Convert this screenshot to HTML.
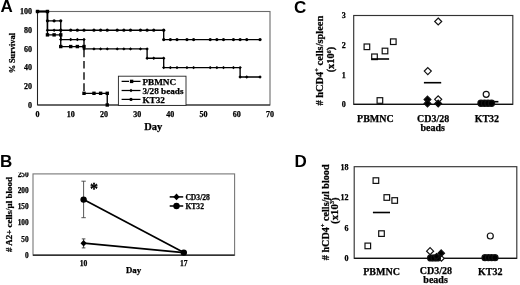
<!DOCTYPE html>
<html lang="en">
<head>
<meta charset="utf-8">
<title>Figure</title>
<style>
html,body{margin:0;padding:0;background:#fff;}
body{width:520px;height:285px;overflow:hidden;}
svg{display:block;}
svg text{font-family:"Liberation Serif", "DejaVu Serif", serif;fill:#000;stroke:#000;stroke-width:0.25px;}
svg text.pl{font-family:"Liberation Sans", "DejaVu Sans", sans-serif;stroke:none;}
</style>
</head>
<body>
<svg width="520" height="285" viewBox="0 0 520 285">
<rect x="0" y="0" width="520" height="285" fill="#fff"/>
<g id="panelA">
<rect x="37.5" y="11.5" width="232.5" height="93.5" fill="#fff" stroke="#6a6a6a" stroke-width="1.1"/>
<path d="M37.5 11.5V105H270" fill="none" stroke="#222" stroke-width="1"/>
<polyline points="37.5,11.5 47.46,11.5 47.46,34.88 54.11,34.88 60.75,34.88 60.75,46.56 70.71,46.56 77.36,46.56 84,46.56" fill="none" stroke="#000" stroke-width="1.35"/>
<line x1="84" y1="46.56" x2="84" y2="93.31" stroke="#000" stroke-width="1.35" stroke-dasharray="7.6 3.6" stroke-dashoffset="8"/>
<polyline points="84,93.31 93.96,93.31 100.61,93.31 107.25,93.31 107.25,105" fill="none" stroke="#000" stroke-width="1.35"/>
<rect x="35.8" y="9.8" width="3.4" height="3.4" fill="#000"/>
<rect x="45.76" y="9.8" width="3.4" height="3.4" fill="#000"/>
<rect x="45.76" y="33.17" width="3.4" height="3.4" fill="#000"/>
<rect x="52.41" y="33.17" width="3.4" height="3.4" fill="#000"/>
<rect x="59.05" y="33.17" width="3.4" height="3.4" fill="#000"/>
<rect x="59.05" y="44.86" width="3.4" height="3.4" fill="#000"/>
<rect x="69.01" y="44.86" width="3.4" height="3.4" fill="#000"/>
<rect x="75.66" y="44.86" width="3.4" height="3.4" fill="#000"/>
<rect x="82.3" y="44.86" width="3.4" height="3.4" fill="#000"/>
<rect x="82.3" y="91.61" width="3.4" height="3.4" fill="#000"/>
<rect x="92.26" y="91.61" width="3.4" height="3.4" fill="#000"/>
<rect x="98.91" y="91.61" width="3.4" height="3.4" fill="#000"/>
<rect x="105.55" y="91.61" width="3.4" height="3.4" fill="#000"/>
<rect x="105.55" y="103.3" width="3.4" height="3.4" fill="#000"/>
<polyline points="37.5,11.5 47.46,11.5 47.46,30.2 54.11,30.2 60.75,30.2 60.75,39.55 70.71,39.55 77.36,39.55 84,39.55 84,48.9 93.96,48.9 100.61,48.9 107.25,48.9 117.21,48.9 123.86,48.9 130.5,48.9 140.46,48.9 147.11,48.9 147.11,58.25 153.75,58.25 163.71,58.25 163.71,67.6 170.36,67.6 177,67.6 186.96,67.6 193.61,67.6 210.21,67.6 216.86,67.6 223.5,67.6 233.46,67.6 240.11,67.6 240.11,76.95 246.75,76.95 260.04,76.95" fill="none" stroke="#000" stroke-width="1.35"/>
<path d="M37.5 9.8l1.7 1.7l-1.7 1.7l-1.7 -1.7z" fill="#000"/>
<path d="M47.46 9.8l1.7 1.7l-1.7 1.7l-1.7 -1.7z" fill="#000"/>
<path d="M47.46 28.5l1.7 1.7l-1.7 1.7l-1.7 -1.7z" fill="#000"/>
<path d="M54.11 28.5l1.7 1.7l-1.7 1.7l-1.7 -1.7z" fill="#000"/>
<path d="M60.75 28.5l1.7 1.7l-1.7 1.7l-1.7 -1.7z" fill="#000"/>
<path d="M60.75 37.85l1.7 1.7l-1.7 1.7l-1.7 -1.7z" fill="#000"/>
<path d="M70.71 37.85l1.7 1.7l-1.7 1.7l-1.7 -1.7z" fill="#000"/>
<path d="M77.36 37.85l1.7 1.7l-1.7 1.7l-1.7 -1.7z" fill="#000"/>
<path d="M84 37.85l1.7 1.7l-1.7 1.7l-1.7 -1.7z" fill="#000"/>
<path d="M84 47.2l1.7 1.7l-1.7 1.7l-1.7 -1.7z" fill="#000"/>
<path d="M93.96 47.2l1.7 1.7l-1.7 1.7l-1.7 -1.7z" fill="#000"/>
<path d="M100.61 47.2l1.7 1.7l-1.7 1.7l-1.7 -1.7z" fill="#000"/>
<path d="M107.25 47.2l1.7 1.7l-1.7 1.7l-1.7 -1.7z" fill="#000"/>
<path d="M117.21 47.2l1.7 1.7l-1.7 1.7l-1.7 -1.7z" fill="#000"/>
<path d="M123.86 47.2l1.7 1.7l-1.7 1.7l-1.7 -1.7z" fill="#000"/>
<path d="M130.5 47.2l1.7 1.7l-1.7 1.7l-1.7 -1.7z" fill="#000"/>
<path d="M140.46 47.2l1.7 1.7l-1.7 1.7l-1.7 -1.7z" fill="#000"/>
<path d="M147.11 47.2l1.7 1.7l-1.7 1.7l-1.7 -1.7z" fill="#000"/>
<path d="M147.11 56.55l1.7 1.7l-1.7 1.7l-1.7 -1.7z" fill="#000"/>
<path d="M153.75 56.55l1.7 1.7l-1.7 1.7l-1.7 -1.7z" fill="#000"/>
<path d="M163.71 56.55l1.7 1.7l-1.7 1.7l-1.7 -1.7z" fill="#000"/>
<path d="M163.71 65.9l1.7 1.7l-1.7 1.7l-1.7 -1.7z" fill="#000"/>
<path d="M170.36 65.9l1.7 1.7l-1.7 1.7l-1.7 -1.7z" fill="#000"/>
<path d="M177 65.9l1.7 1.7l-1.7 1.7l-1.7 -1.7z" fill="#000"/>
<path d="M186.96 65.9l1.7 1.7l-1.7 1.7l-1.7 -1.7z" fill="#000"/>
<path d="M193.61 65.9l1.7 1.7l-1.7 1.7l-1.7 -1.7z" fill="#000"/>
<path d="M210.21 65.9l1.7 1.7l-1.7 1.7l-1.7 -1.7z" fill="#000"/>
<path d="M216.86 65.9l1.7 1.7l-1.7 1.7l-1.7 -1.7z" fill="#000"/>
<path d="M223.5 65.9l1.7 1.7l-1.7 1.7l-1.7 -1.7z" fill="#000"/>
<path d="M233.46 65.9l1.7 1.7l-1.7 1.7l-1.7 -1.7z" fill="#000"/>
<path d="M240.11 65.9l1.7 1.7l-1.7 1.7l-1.7 -1.7z" fill="#000"/>
<path d="M240.11 75.25l1.7 1.7l-1.7 1.7l-1.7 -1.7z" fill="#000"/>
<path d="M246.75 75.25l1.7 1.7l-1.7 1.7l-1.7 -1.7z" fill="#000"/>
<path d="M260.04 75.25l1.7 1.7l-1.7 1.7l-1.7 -1.7z" fill="#000"/>
<polyline points="37.5,11.5 47.46,11.5 47.46,20.85 54.11,20.85 60.75,20.85 60.75,30.2 70.71,30.2 77.36,30.2 84,30.2 93.96,30.2 100.61,30.2 107.25,30.2 117.21,30.2 123.86,30.2 130.5,30.2 140.46,30.2 147.11,30.2 153.75,30.2 163.71,30.2 163.71,39.55 170.36,39.55 177,39.55 186.96,39.55 193.61,39.55 210.21,39.55 216.86,39.55 223.5,39.55 233.46,39.55 240.11,39.55 246.75,39.55 260.04,39.55" fill="none" stroke="#000" stroke-width="1.35"/>
<circle cx="37.5" cy="11.5" r="1.6" fill="#000"/>
<circle cx="47.46" cy="11.5" r="1.6" fill="#000"/>
<circle cx="47.46" cy="20.85" r="1.6" fill="#000"/>
<circle cx="54.11" cy="20.85" r="1.6" fill="#000"/>
<circle cx="60.75" cy="20.85" r="1.6" fill="#000"/>
<circle cx="60.75" cy="30.2" r="1.6" fill="#000"/>
<circle cx="70.71" cy="30.2" r="1.6" fill="#000"/>
<circle cx="77.36" cy="30.2" r="1.6" fill="#000"/>
<circle cx="84" cy="30.2" r="1.6" fill="#000"/>
<circle cx="93.96" cy="30.2" r="1.6" fill="#000"/>
<circle cx="100.61" cy="30.2" r="1.6" fill="#000"/>
<circle cx="107.25" cy="30.2" r="1.6" fill="#000"/>
<circle cx="117.21" cy="30.2" r="1.6" fill="#000"/>
<circle cx="123.86" cy="30.2" r="1.6" fill="#000"/>
<circle cx="130.5" cy="30.2" r="1.6" fill="#000"/>
<circle cx="140.46" cy="30.2" r="1.6" fill="#000"/>
<circle cx="147.11" cy="30.2" r="1.6" fill="#000"/>
<circle cx="153.75" cy="30.2" r="1.6" fill="#000"/>
<circle cx="163.71" cy="30.2" r="1.6" fill="#000"/>
<circle cx="163.71" cy="39.55" r="1.6" fill="#000"/>
<circle cx="170.36" cy="39.55" r="1.6" fill="#000"/>
<circle cx="177" cy="39.55" r="1.6" fill="#000"/>
<circle cx="186.96" cy="39.55" r="1.6" fill="#000"/>
<circle cx="193.61" cy="39.55" r="1.6" fill="#000"/>
<circle cx="210.21" cy="39.55" r="1.6" fill="#000"/>
<circle cx="216.86" cy="39.55" r="1.6" fill="#000"/>
<circle cx="223.5" cy="39.55" r="1.6" fill="#000"/>
<circle cx="233.46" cy="39.55" r="1.6" fill="#000"/>
<circle cx="240.11" cy="39.55" r="1.6" fill="#000"/>
<circle cx="246.75" cy="39.55" r="1.6" fill="#000"/>
<circle cx="260.04" cy="39.55" r="1.6" fill="#000"/>
<rect x="118.4" y="76.2" width="67.6" height="29.2" fill="#fff" stroke="#222" stroke-width="0.9"/>
<line x1="121.6" y1="81.4" x2="140.5" y2="81.4" stroke="#000" stroke-width="1.25" stroke-dasharray="7.4 3.6 8" />
<rect x="129.9" y="79.7" width="3.4" height="3.4" fill="#000"/>
<text x="142.4" y="84.5" font-size="9.2" font-weight="bold">PBMNC</text>
<line x1="121.6" y1="90.5" x2="140.5" y2="90.5" stroke="#000" stroke-width="1.25"/>
<path d="M131 88.8l1.7 1.7l-1.7 1.7l-1.7 -1.7z" fill="#000"/>
<text x="142.4" y="93.6" font-size="9.2" font-weight="bold">3/28 beads</text>
<line x1="121.6" y1="99.4" x2="140.5" y2="99.4" stroke="#000" stroke-width="1.25"/>
<circle cx="131" cy="99.4" r="1.6" fill="#000"/>
<text x="142.4" y="102.5" font-size="9.2" font-weight="bold">KT32</text>
<text x="32" y="107.7" font-size="8" font-weight="bold" text-anchor="end">0</text>
<text x="32" y="89" font-size="8" font-weight="bold" text-anchor="end">20</text>
<text x="32" y="70.3" font-size="8" font-weight="bold" text-anchor="end">40</text>
<text x="32" y="51.6" font-size="8" font-weight="bold" text-anchor="end">60</text>
<text x="32" y="32.9" font-size="8" font-weight="bold" text-anchor="end">80</text>
<text x="32" y="14.2" font-size="8" font-weight="bold" text-anchor="end">100</text>
<text x="37.5" y="117.3" font-size="8" font-weight="bold" text-anchor="middle">0</text>
<text x="70.71" y="117.3" font-size="8" font-weight="bold" text-anchor="middle">10</text>
<text x="103.93" y="117.3" font-size="8" font-weight="bold" text-anchor="middle">20</text>
<text x="137.14" y="117.3" font-size="8" font-weight="bold" text-anchor="middle">30</text>
<text x="170.36" y="117.3" font-size="8" font-weight="bold" text-anchor="middle">40</text>
<text x="203.57" y="117.3" font-size="8" font-weight="bold" text-anchor="middle">50</text>
<text x="236.79" y="117.3" font-size="8" font-weight="bold" text-anchor="middle">60</text>
<text x="270" y="117.3" font-size="8" font-weight="bold" text-anchor="middle">70</text>
<text x="153.2" y="130.3" font-size="10.5" font-weight="bold" text-anchor="middle">Day</text>
<text transform="translate(15.2 53.2) rotate(-90)" font-size="8.3" font-weight="bold" text-anchor="middle">% Survival</text>
<text x="0.6" y="12.4" class="pl" font-size="17" font-weight="bold">A</text>
</g>
<g id="panelB">
<rect x="33" y="173.9" width="201.6" height="81.3" fill="#fff" stroke="#777" stroke-width="1.1"/>
<path d="M33 255.2H234.6" fill="none" stroke="#111" stroke-width="1.2"/>
<path d="M83.6 181.2V217.7M81.4 181.2h4.4M81.4 217.7h4.4" stroke="#444" stroke-width="0.9" fill="none"/>
<path d="M83.6 238.9V247.9M81.8 238.9h3.6M81.8 247.9h3.6" stroke="#333" stroke-width="0.9" fill="none"/>
<line x1="83.6" y1="199.6" x2="183.8" y2="252.6" stroke="#000" stroke-width="1.7"/>
<line x1="83.6" y1="243.1" x2="183.8" y2="252.6" stroke="#000" stroke-width="1.7"/>
<circle cx="83.6" cy="199.6" r="3.2" fill="#000"/>
<circle cx="183.8" cy="252.6" r="3.2" fill="#000"/>
<path d="M83.6 239.9l3.1 3.3l-3.1 3.3l-3.1 -3.3z" fill="#000"/>
<text x="93.9" y="193.6" font-size="16" font-weight="bold" text-anchor="middle" style="stroke-width:0.4px">*</text>
<line x1="169.7" y1="196.9" x2="183.2" y2="196.9" stroke="#000" stroke-width="1.5"/>
<path d="M176.5 193.5l3.2 3.4l-3.2 3.4l-3.2 -3.4z" fill="#000"/>
<text x="185.4" y="199.5" font-size="7.6" font-weight="bold">CD3/28</text>
<line x1="169.7" y1="206" x2="183.2" y2="206" stroke="#000" stroke-width="1.5"/>
<circle cx="176.5" cy="206" r="3.2" fill="#000"/>
<text x="185.4" y="208.6" font-size="7.6" font-weight="bold">KT32</text>
<clipPath id="clipB"><rect x="0" y="172.6" width="40" height="100"/></clipPath>
<g clip-path="url(#clipB)">
<text x="28.6" y="257.8" font-size="7.3" font-weight="bold" text-anchor="end">0</text>
<text x="28.6" y="241.54" font-size="7.3" font-weight="bold" text-anchor="end">50</text>
<text x="28.6" y="225.28" font-size="7.3" font-weight="bold" text-anchor="end">100</text>
<text x="28.6" y="209.02" font-size="7.3" font-weight="bold" text-anchor="end">150</text>
<text x="28.6" y="192.76" font-size="7.3" font-weight="bold" text-anchor="end">200</text>
<text x="28.6" y="176.5" font-size="7.3" font-weight="bold" text-anchor="end">250</text>
</g>
<text x="83.6" y="266" font-size="7.6" font-weight="bold" text-anchor="middle">10</text>
<text x="183.8" y="266" font-size="7.6" font-weight="bold" text-anchor="middle">17</text>
<text x="133.5" y="273" font-size="8.8" font-weight="bold" text-anchor="middle">Day</text>
<text transform="translate(12 214.6) rotate(-90)" font-size="9" font-weight="bold" text-anchor="middle"># A2+ cells/μl blood</text>
<text x="0" y="166.6" class="pl" font-size="17" font-weight="bold">B</text>
</g>
<g id="panelC">
<rect x="353.7" y="15.5" width="159.1" height="88.8" fill="#fff" stroke="#333" stroke-width="1.15"/>
<path d="M353.7 104.3H512.8" fill="none" stroke="#111" stroke-width="1.2"/>
<rect x="364.1" y="44" width="5.6" height="5.6" fill="#fff" stroke="#111" stroke-width="1.2"/>
<rect x="371.7" y="54" width="5.6" height="5.6" fill="#fff" stroke="#111" stroke-width="1.2"/>
<rect x="382.2" y="48.2" width="5.6" height="5.6" fill="#fff" stroke="#111" stroke-width="1.2"/>
<rect x="390.5" y="38.9" width="5.6" height="5.6" fill="#fff" stroke="#111" stroke-width="1.2"/>
<rect x="377.1" y="97.7" width="5.6" height="5.6" fill="#fff" stroke="#111" stroke-width="1.2"/>
<line x1="371.5" y1="59" x2="389.1" y2="59" stroke="#000" stroke-width="1.6"/>
<path d="M438.2 18l3.5 3.5l-3.5 3.5l-3.5 -3.5z" fill="#fff" stroke="#111" stroke-width="1.2"/>
<path d="M427.8 67.6l3.5 3.5l-3.5 3.5l-3.5 -3.5z" fill="#fff" stroke="#111" stroke-width="1.2"/>
<line x1="423.9" y1="82.7" x2="441.2" y2="82.7" stroke="#000" stroke-width="1.6"/>
<path d="M438.2 95.8l3.5 3.5l-3.5 3.5l-3.5 -3.5z" fill="#fff" stroke="#111" stroke-width="1.2"/>
<path d="M427.5 96.2l3.4 3.4l-3.4 3.4l-3.4 -3.4z" fill="#000" stroke="#111" stroke-width="1.2"/>
<path d="M427.5 100.2l3.4 3.4l-3.4 3.4l-3.4 -3.4z" fill="#000" stroke="#111" stroke-width="1.2"/>
<path d="M438.2 100.2l3.4 3.4l-3.4 3.4l-3.4 -3.4z" fill="#000" stroke="#111" stroke-width="1.2"/>
<line x1="478" y1="101.7" x2="498.4" y2="101.7" stroke="#000" stroke-width="1.6"/>
<circle cx="486.2" cy="94.3" r="3" fill="#fff" stroke="#111" stroke-width="1.2"/>
<circle cx="481" cy="103.2" r="3.1" fill="#000" stroke="#111" stroke-width="1.2"/>
<circle cx="484.5" cy="103.2" r="3.1" fill="#000" stroke="#111" stroke-width="1.2"/>
<circle cx="488" cy="103.2" r="3.1" fill="#000" stroke="#111" stroke-width="1.2"/>
<circle cx="491.5" cy="103.2" r="3.1" fill="#000" stroke="#111" stroke-width="1.2"/>
<text x="345.8" y="18.1" font-size="8" font-weight="bold" text-anchor="end">3</text>
<text x="345.8" y="47.9" font-size="8" font-weight="bold" text-anchor="end">2</text>
<text x="345.8" y="77.8" font-size="8" font-weight="bold" text-anchor="end">1</text>
<text x="345.8" y="106.9" font-size="8" font-weight="bold" text-anchor="end">0</text>
<text x="375.4" y="122.3" font-size="10" font-weight="bold" text-anchor="middle">PBMNC</text>
<text x="433.1" y="121.8" font-size="10" font-weight="bold" text-anchor="middle">CD3/28</text>
<text x="432.8" y="130.5" font-size="10" font-weight="bold" text-anchor="middle">beads</text>
<text x="486.9" y="122.3" font-size="10" font-weight="bold" text-anchor="middle">KT32</text>
<text transform="translate(322.5 60.6) rotate(-90)" font-size="10.4" font-weight="bold" text-anchor="middle"># hCD4<tspan dy="-3.2" font-size="6.5">+</tspan><tspan dy="3.2"> cells/spleen</tspan></text>
<text transform="translate(334.2 59.6) rotate(-90)" font-size="10.4" font-weight="bold" text-anchor="middle">(x10<tspan dy="-3.4" font-size="6">6</tspan><tspan dy="3.4">)</tspan></text>
<text x="294" y="12.5" class="pl" font-size="17" font-weight="bold">C</text>
</g>
<g id="panelD">
<rect x="354.2" y="166.7" width="162.6" height="91.6" fill="#fff" stroke="#333" stroke-width="1.15"/>
<path d="M354.2 258.3H516.8" fill="none" stroke="#111" stroke-width="1.2"/>
<rect x="373.1" y="177.8" width="5.6" height="5.6" fill="#fff" stroke="#111" stroke-width="1.2"/>
<rect x="384" y="194.7" width="5.6" height="5.6" fill="#fff" stroke="#111" stroke-width="1.2"/>
<rect x="391.9" y="197.7" width="5.6" height="5.6" fill="#fff" stroke="#111" stroke-width="1.2"/>
<rect x="378.7" y="230.8" width="5.6" height="5.6" fill="#fff" stroke="#111" stroke-width="1.2"/>
<rect x="365" y="243.1" width="5.6" height="5.6" fill="#fff" stroke="#111" stroke-width="1.2"/>
<line x1="372.9" y1="212.5" x2="390" y2="212.5" stroke="#000" stroke-width="1.6"/>
<path d="M430.1 247.7l3.5 3.5l-3.5 3.5l-3.5 -3.5z" fill="#fff" stroke="#111" stroke-width="1.2"/>
<path d="M441.4 255.6l2.8 2.8l-2.8 2.8l-2.8 -2.8z" fill="#fff" stroke="#111" stroke-width="1.2"/>
<path d="M441.2 249.9l3.3 3.3l-3.3 3.3l-3.3 -3.3z" fill="#000" stroke="#111" stroke-width="1.2"/>
<circle cx="430.6" cy="257.9" r="3" fill="#000" stroke="#111" stroke-width="1.2"/>
<circle cx="434" cy="257.9" r="3" fill="#000" stroke="#111" stroke-width="1.2"/>
<circle cx="437.5" cy="257.9" r="3" fill="#000" stroke="#111" stroke-width="1.2"/>
<path d="M436.5 253.5l3 3l-3 3l-3 -3z" fill="#000" stroke="#111" stroke-width="1.2"/>
<circle cx="490.3" cy="236" r="3" fill="#fff" stroke="#111" stroke-width="1.2"/>
<circle cx="485" cy="257.7" r="3" fill="#000" stroke="#111" stroke-width="1.2"/>
<circle cx="488.4" cy="257.7" r="3" fill="#000" stroke="#111" stroke-width="1.2"/>
<circle cx="491.6" cy="257.7" r="3" fill="#000" stroke="#111" stroke-width="1.2"/>
<circle cx="495" cy="257.7" r="3" fill="#000" stroke="#111" stroke-width="1.2"/>
<text x="348.5" y="169.5" font-size="8" font-weight="bold" text-anchor="end">18</text>
<text x="348.5" y="200.2" font-size="8" font-weight="bold" text-anchor="end">12</text>
<text x="348.5" y="230.6" font-size="8" font-weight="bold" text-anchor="end">6</text>
<text x="348.5" y="260.6" font-size="8" font-weight="bold" text-anchor="end">0</text>
<text x="381.6" y="275.2" font-size="10" font-weight="bold" text-anchor="middle">PBMNC</text>
<text x="435.9" y="274.4" font-size="10" font-weight="bold" text-anchor="middle">CD3/28</text>
<text x="435.6" y="283.3" font-size="10" font-weight="bold" text-anchor="middle">beads</text>
<text x="490.3" y="275.4" font-size="10" font-weight="bold" text-anchor="middle">KT32</text>
<text transform="translate(328.5 212.3) rotate(-90)" font-size="10.15" font-weight="bold" text-anchor="middle"># hCD4<tspan dy="-3.2" font-size="6.5">+</tspan><tspan dy="3.2"> cells/</tspan><tspan font-style="italic">μ</tspan>l blood</text>
<text transform="translate(337.5 210.7) rotate(-90)" font-size="10.8" font-weight="bold" text-anchor="middle">(x10<tspan dy="-3.4" font-size="6">3</tspan><tspan dy="3.4">)</tspan></text>
<text x="294.6" y="166.6" class="pl" font-size="17" font-weight="bold">D</text>
</g>
</svg>
</body>
</html>
